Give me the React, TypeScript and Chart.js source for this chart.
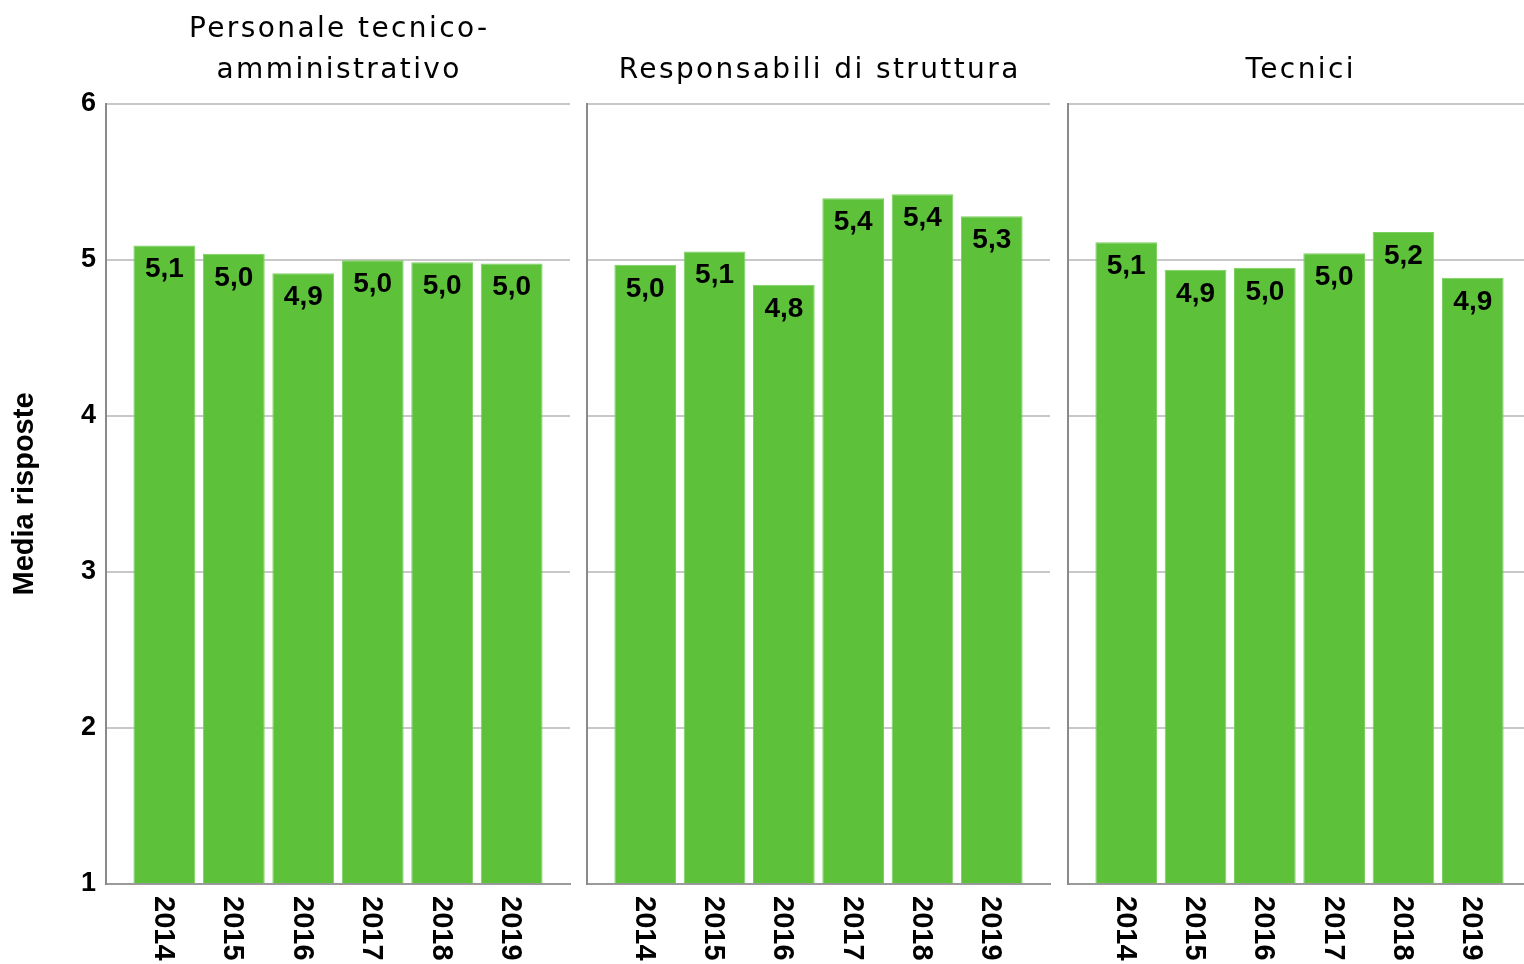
import React, { useEffect, useRef } from 'react';
import { Chart, registerables } from 'chart.js';

Chart.register(...registerables);

// ---- data ----
const years = ['2014', '2015', '2016', '2017', '2018', '2019'];
const personaleValues = [5.093, 5.04, 4.915, 4.998, 4.985, 4.978];
const responsabiliValues = [4.97, 5.055, 4.842, 5.396, 5.421, 5.28];
const tecniciValues = [5.114, 4.937, 4.95, 5.044, 5.179, 4.886];
const personaleTitle = ['Personale tecnico-', 'amministrativo'];
const responsabiliTitle = ['', 'Responsabili di struttura'];
const tecniciTitle = ['', 'Tecnici'];
const yAxisTitle = 'Media risposte';
const yMin = 1;
const yMax = 6;

const GREEN = '#5DC23A';
const BOLD_FONT = 'bold 28px "Liberation Sans", Arial, sans-serif';
const YEAR_FONT = 'bold 29px "Liberation Sans", Arial, sans-serif';

function makePlugin(titleLines: string[]) {
  return {
    id: 'panelDecor',
    afterDatasetsDraw(chart: any) {
      const ctx = chart.ctx;
      const area = chart.chartArea;
      const meta = chart.getDatasetMeta(0);
      const ds = chart.data.datasets[0];
      ctx.save();
      // value labels
      ctx.font = BOLD_FONT;
      ctx.fillStyle = '#000';
      ctx.textAlign = 'center';
      ctx.textBaseline = 'alphabetic';
      meta.data.forEach((el: any, i: number) => {
        const v = (ds.data[i] as any).y as number;
        const txt = v.toFixed(1).replace('.', ',');
        ctx.fillText(txt, el.x, el.y + 32);
      });
      // rotated year labels
      const xs = chart.scales.x;
      years.forEach((yr, i) => {
        const px = xs.getPixelForValue(i) - 1.5;
        ctx.save();
        ctx.translate(px, area.bottom + 12);
        ctx.rotate(Math.PI / 2);
        ctx.textAlign = 'left';
        ctx.textBaseline = 'middle';
        ctx.font = YEAR_FONT;
        ctx.fillText(yr, 0, 0);
        ctx.restore();
      });
      // panel titles
      ctx.font = '28px "DejaVu Sans", sans-serif';
      (ctx as any).letterSpacing = '2.4px';
      ctx.textAlign = 'center';
      ctx.textBaseline = 'alphabetic';
      const cx = (area.left + area.right) / 2 + 1.2;
      ctx.fillText(titleLines[0], cx, area.top - 67);
      ctx.fillText(titleLines[1], cx, area.top - 26);
      ctx.restore();
    },
  };
}

function Panel(props: {
  values: number[];
  titleLines: string[];
  showY: boolean;
  left: number;
  width: number;
  yWidth: number;
  padRight: number;
}) {
  const { values, titleLines, showY, left, width, yWidth, padRight } = props;
  const ref = useRef<HTMLCanvasElement | null>(null);
  useEffect(() => {
    if (!ref.current) return;
    const chart = new Chart(ref.current, {
      type: 'bar',
      data: {
        datasets: [
          {
            data: values.map((v, i) => ({ x: i, y: v })),
            backgroundColor: GREEN,
            borderColor: '#7ACF5E',
            borderWidth: 1,
            base: yMin,
            barPercentage: 0.89,
            categoryPercentage: 1,
          } as any,
        ],
      },
      options: {
        animation: false,
        responsive: false,
        devicePixelRatio: 1,
        layout: { padding: { left: 0, right: padRight, top: 104, bottom: 0 } },
        plugins: {
          legend: { display: false },
          tooltip: { enabled: false },
          title: { display: false },
        },
        scales: {
          x: {
            type: 'linear',
            min: -0.84,
            max: 5.84,
            offset: false,
            grid: { display: false, drawTicks: false },
            ticks: { display: false },
            border: { display: true, color: '#9a9a9a', width: 2 },
            afterBuildTicks: (s: any) => {
              s.ticks = years.map((_, i) => ({ value: i }));
            },
            afterFit: (s: any) => {
              s.height = 80;
            },
          } as any,
          y: {
            min: yMin,
            max: yMax,
            ticks: {
              display: showY,
              stepSize: 1,
              padding: 10,
              color: '#000',
              font: { family: '"Liberation Sans", Arial, sans-serif', size: 27, weight: 'bold' },
            },
            grid: { color: '#c8c8c8', lineWidth: 2, drawTicks: false },
            border: { display: true, color: '#8a8a8a', width: 2 },
            title: {
              display: showY,
              text: yAxisTitle,
              color: '#000',
              font: { family: '"Liberation Sans", Arial, sans-serif', size: 29, weight: 'bold' },
              padding: { top: 8, bottom: 0 },
            },
            afterFit: (s: any) => {
              s.width = yWidth;
            },
          } as any,
        },
      },
      plugins: [makePlugin(titleLines)],
    });
    return () => chart.destroy();
  }, []);
  return (
    <canvas
      ref={ref}
      width={width}
      height={964}
      style={{ position: 'absolute', left, top: 0, width, height: 964 }}
    />
  );
}

export default function App() {
  return (
    <div
      style={{
        position: 'fixed',
        left: 0,
        top: 0,
        width: 1524,
        height: 964,
        overflow: 'hidden',
        background: '#fff',
      }}
    >
      <Panel values={personaleValues} titleLines={personaleTitle} showY={true} left={0} width={578} yWidth={106} padRight={8} />
      <Panel values={responsabiliValues} titleLines={responsabiliTitle} showY={false} left={578} width={481} yWidth={9} padRight={9} />
      <Panel values={tecniciValues} titleLines={tecniciTitle} showY={false} left={1059} width={481} yWidth={9} padRight={9} />
    </div>
  );
}
